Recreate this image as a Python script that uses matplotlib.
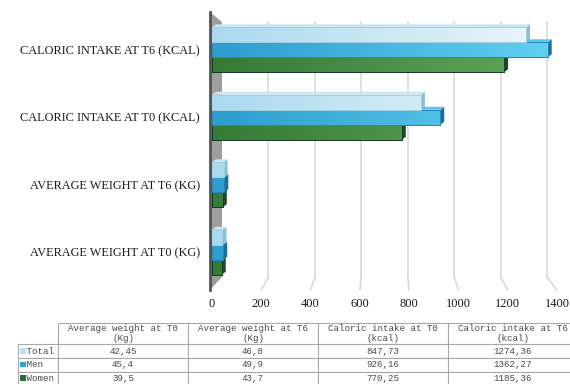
import numpy as np
import matplotlib
matplotlib.use("Agg")
import matplotlib.pyplot as plt
from matplotlib.patches import Polygon, Rectangle
from matplotlib.colors import LinearSegmentedColormap
from matplotlib.table import Table

# data
categories = ["AVERAGE WEIGHT AT T0 (KG)", "AVERAGE WEIGHT AT T6 (KG)",
              "CALORIC INTAKE AT T0 (KCAL)", "CALORIC INTAKE AT T6 (KCAL)"]
col_headers = ["Average weight at T0\n(Kg)", "Average weight at T6\n(Kg)",
               "Caloric intake at T0\n(kcal)", "Caloric intake at T6\n(kcal)"]
series_names = ["Total", "Men", "Women"]
total = [42.45, 46.8, 847.73, 1274.36]
men = [45.4, 49.9, 926.16, 1362.27]
women = [39.5, 43.7, 770.25, 1185.36]
xticks = [0, 200, 400, 600, 800, 1000, 1200, 1400]

# styles
grad = {"Total": ("#aad9ee", "#eef7fa"),
        "Men": ("#2e9dcf", "#62d0f0"),
        "Women": ("#357a36", "#62a85a")}
side = {"Total": "#8cbfd3", "Men": "#1d6f98", "Women": "#1c4a2a"}
topc = {"Total": "#c9e6f2", "Men": "#5cc6ea", "Women": "#5c9e56"}
edge = {"Total": "#9fd0e6", "Men": "#2a86b8", "Women": "#173d24"}
marker_col = {"Total": "#b7e1f2", "Men": "#2ea3d6", "Women": "#2c6a3a"}

W, H = 570, 384
fig = plt.figure(figsize=(W / 100, H / 100), dpi=100)

# axes geometry in pixels
x0_px, x1400_px = 212, 557
sx = (x1400_px - x0_px) / 1400.0
ax_left, ax_right = 206, 557
ax_top, ax_bot = 12, 290
ylo, yhi = -0.56, 3.56
sy = (ax_bot - ax_top) / (yhi - ylo)
ax = fig.add_axes([ax_left / W, (H - ax_bot) / H, (ax_right - ax_left) / W, (ax_bot - ax_top) / H])
for s in ax.spines.values():
    s.set_visible(False)

# back wall grid (perspective: back plane is shifted/compressed)
back0 = 10 / sx
back_k = 325 / 345.0
g_top = yhi - 10 / sy
g_bot = ylo + 13 / sy
for v in xticks[1:]:
    bx = back0 + back_k * v
    ax.plot([bx, bx], [g_bot, g_top], color="#d9d9d9", lw=1.2, zorder=1, clip_on=False)
    ax.plot([bx, v], [g_bot, ylo], color="#d9d9d9", lw=1.2, zorder=1, clip_on=False)

# grey left wall
wx = -2 / sx
wall = Polygon([(wx, yhi), (back0, g_top), (back0, g_bot), (wx, ylo)],
               closed=True, facecolor="#9d9d9d", edgecolor="none", zorder=1.5, clip_on=False)
ax.add_patch(wall)
ax.plot([wx, wx], [ylo, yhi], color="#555555", lw=2, zorder=1.6, clip_on=False)

# bars
bh = 15 / sy
dx, dy = 4 / sx, 3 / sy
ypos = np.arange(len(categories))
offsets = {"Total": bh, "Men": 0.0, "Women": -bh}
values = {"Total": total, "Men": men, "Women": women}
zbase = {"Women": 3, "Men": 4, "Total": 5}
grad_img = np.linspace(0, 1, 256).reshape(1, -1)
for name in ["Women", "Men", "Total"]:
    z = zbase[name]
    bars = ax.barh(ypos + offsets[name], values[name], height=bh, color=grad[name][0],
                   edgecolor=edge[name], linewidth=0.7, zorder=z)
    cmap = LinearSegmentedColormap.from_list(name, grad[name])
    for b in bars:
        bx0, by0 = b.get_x(), b.get_y()
        bx1, by1 = bx0 + b.get_width(), by0 + b.get_height()
        ax.add_patch(Polygon([(bx1, by0), (bx1 + dx, by0 + dy), (bx1 + dx, by1 + dy), (bx1, by1)],
                             closed=True, facecolor=side[name], edgecolor="none", zorder=z - 0.2))
        ax.add_patch(Polygon([(bx0, by1), (bx0 + dx, by1 + dy), (bx1 + dx, by1 + dy), (bx1, by1)],
                             closed=True, facecolor=topc[name], edgecolor="none", zorder=z - 0.2))
        im = ax.imshow(grad_img, cmap=cmap, extent=[0, 1400, by0, by1], aspect="auto",
                       zorder=z + 0.1, interpolation="bilinear")
        im.set_clip_path(b)
        ax.barh(b.get_y() + b.get_height() / 2, b.get_width(), height=bh, color="none",
                edgecolor=edge[name], linewidth=0.7, zorder=z + 0.2)
ax.set_xlim(-(x0_px - ax_left) / sx, 1400)
ax.set_ylim(ylo, yhi)

ax.set_yticks(ypos, categories)
ax.set_xticks(xticks, [str(t) for t in xticks])
ax.tick_params(axis="y", length=0, pad=4.5, labelsize=8.8, labelcolor="#1a1a1a")
ax.tick_params(axis="x", length=0, pad=6, labelsize=9, labelcolor="#1a1a1a")
for lab in ax.get_yticklabels() + ax.get_xticklabels():
    lab.set_fontfamily("Liberation Serif")

# data table below the chart
t_left, t_right, t_top, t_bot = 18, 578, 323, 385
tax = fig.add_axes([t_left / W, (H - t_bot) / H, (t_right - t_left) / W, (t_bot - t_top) / H])
tax.axis("off")
col_w = [40, 130, 130, 130, 130]
row_h = [21, 14, 13.5, 13.5]
tbl = Table(tax, bbox=[0, 0, 1, 1])
rows = [[""] + col_headers] + [[" " + n] + [str(v).replace(".", ",") for v in values[n]]
                               for n in series_names]
for r, row in enumerate(rows):
    for c, txt in enumerate(row):
        cell = tbl.add_cell(r, c, width=col_w[c], height=row_h[r], text=txt,
                            loc="left" if c == 0 else "center",
                            edgecolor="#a8a8a8", facecolor="white")
        cell.set_linewidth(0.8)
        cell.get_text().set_fontfamily("Liberation Mono")
        cell.get_text().set_color("#4a4a4a")
        if c == 0:
            cell.PAD = 0.08
        if r == 0 and c == 0:
            cell.visible_edges = ""
tbl.auto_set_font_size(False)
tbl.set_fontsize(6.6)
tax.add_table(tbl)

# coloured keys in the row labels
row_mid = {"Total": 351, "Men": 364.5, "Women": 378}
for n in series_names:
    fig.add_artist(Rectangle((20 / W, (H - row_mid[n] - 2.5) / H), 5.5 / W, 5.5 / H,
                             transform=fig.transFigure, facecolor=marker_col[n], edgecolor="none",
                             zorder=10))

fig.savefig("out.png", dpi=100)
